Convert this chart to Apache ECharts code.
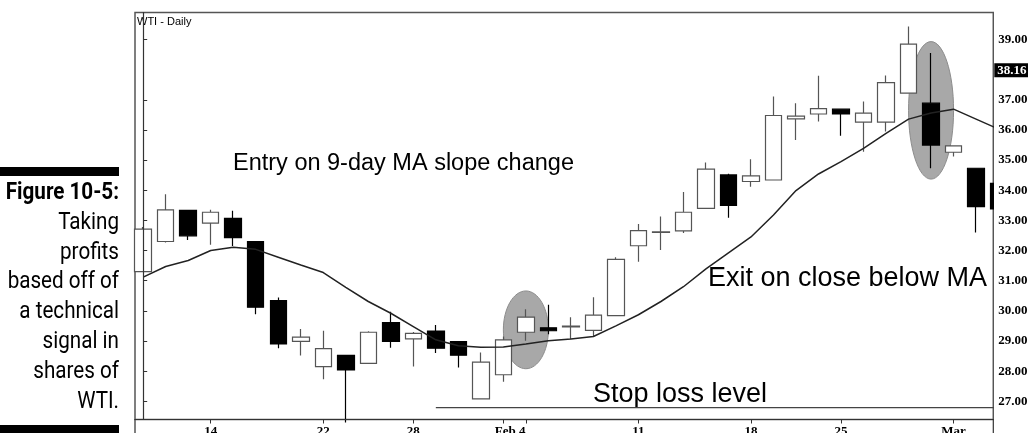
<!DOCTYPE html>
<html><head><meta charset="utf-8">
<script src="https://cdn.jsdelivr.net/npm/echarts@6/dist/echarts.min.js"></script>
<style>html,body{margin:0;padding:0;background:#fff;}#c{width:1028px;height:433px;}</style>
</head><body><div id="c"></div>
<script>
// Trading days (index = position on x axis)
const dates = ['Jan 9','Jan 10','Jan 11','Jan 14','Jan 15','Jan 16','Jan 17','Jan 18','Jan 22','Jan 23','Jan 24','Jan 25',
  'Jan 28','Jan 29','Jan 30','Jan 31','Feb 1','Feb 4','Feb 5','Feb 6','Feb 7','Feb 8','Feb 11','Feb 12','Feb 13','Feb 14','Feb 15',
  'Feb 19','Feb 20','Feb 21','Feb 22','Feb 25','Feb 26','Feb 27','Feb 28','Feb 29','Mar 3','Mar 4','Mar 5'];
const openV  = [31.30,32.30,33.33,32.91,33.07,32.30,30.34,28.99,28.15,28.52,28.26,29.61,29.07,29.33,28.98,27.08,27.88,29.29,29.44,29.47,
  29.35,29.84,32.16,32.60,32.65,33.40,34.51,34.29,34.34,36.37,36.53,36.69,36.26,36.26,37.22,36.89,35.26,34.73,34.23];
const closeV = [32.71,33.35,32.49,33.27,32.43,30.12,28.90,29.13,28.75,28.04,29.29,28.99,29.25,28.76,28.53,28.30,29.04,29.79,29.34,29.49,
  29.86,31.71,32.66,32.62,33.27,34.70,33.50,34.48,36.48,36.46,36.71,36.53,36.56,37.57,38.85,35.50,35.47,33.46,33.38];
const lowV   = [31.30,32.27,32.35,32.19,32.15,29.89,28.76,28.52,27.73,26.30,28.26,28.78,28.15,28.60,28.12,27.06,27.65,29.01,29.22,29.07,
  29.15,29.82,31.63,32.02,32.58,33.38,33.09,34.12,34.32,35.67,36.28,35.81,35.28,35.95,37.20,34.73,35.12,32.60,33.20];
const highV  = [32.78,33.87,33.35,33.35,33.32,32.32,30.44,29.40,29.34,28.52,29.32,29.97,29.30,29.53,28.98,28.62,29.15,30.05,30.20,29.79,
  30.45,31.78,32.88,33.13,33.94,34.92,34.55,35.03,37.11,36.89,37.80,36.69,36.94,37.81,39.43,38.55,35.48,34.75,34.30];
const ma9    = [31.12,31.47,31.67,32.00,32.11,32.04,31.78,31.52,31.27,30.78,30.31,29.92,29.48,29.04,28.84,28.79,28.80,28.90,29.01,29.07,
  29.15,29.50,29.87,30.31,30.80,31.39,31.92,32.45,33.18,33.99,34.54,34.95,35.39,35.89,36.36,36.56,36.69,36.36,36.03];
const stopLoss = 26.79;
const stopFrom = 13;
const lastPrice = 38.16;
// highlighted zones: [index, price, half-width (days), half-height (price)]
const zones = [[17, 29.37, 1.0, 1.29], [35, 36.65, 1.0, 2.28]];
// axis ticks and labels
const xTickIdx = [3, 8, 12, 16, 17, 22, 27, 31, 36];
const xLabelIdx = [3, 8, 12, 16.3, 22, 27, 31, 36];
const xLabelText = ['14', '22', '28', 'Feb 4', '11', '18', '25', 'Mar'];
const yTicks = [27, 28, 29, 30, 31, 32, 33, 34, 35, 36, 37, 39];

const serif = "'Liberation Serif','Times New Roman',serif";
const sans = "'Liberation Sans',Arial,sans-serif";
const candles = dates.map((d, i) => [i, openV[i], closeV[i], lowV[i], highV[i]]);
const maData = ma9.map((v, i) => [i, v]);

const captionLines = ['Taking', 'profits', 'based off of', 'a technical', 'signal in', 'shares of', 'WTI.'];
const graphic = [
  {type: 'rect', shape: {x: 0, y: 167, width: 119, height: 9}, style: {fill: '#000'}},
  {type: 'rect', shape: {x: 0, y: 425, width: 119, height: 8}, style: {fill: '#000'}},
  {type: 'text', x: 119, y: 193.2, scaleX: 0.86, style: {text: 'Figure 10-5:', font: "bold 24px Roboto", fill: '#000', align: 'right', verticalAlign: 'middle'}},
  {type: 'line', shape: {x1: 135, y1: 419, x2: 135, y2: 433}, style: {stroke: '#555', lineWidth: 1.5}},
  {type: 'line', z: 11, shape: {x1: 993.3, y1: 419, x2: 993.3, y2: 433}, style: {stroke: '#333', lineWidth: 1.2}},
  // white margin to the right of the plot (hides the part of the last candle past the axis)
  {type: 'rect', z: 5, shape: {x: 994, y: 0, width: 40, height: 433}, style: {fill: '#fff'}},
  {type: 'text', x: 137, y: 22.2, style: {text: 'WTI - Daily', font: "11px " + sans, fill: '#000', verticalAlign: 'middle'}},
  {type: 'text', x: 233, y: 163.8, style: {text: 'Entry on 9-day MA slope change', font: "23.5px " + sans, fill: '#000', verticalAlign: 'middle'}},
  {type: 'text', x: 708, y: 278.7, style: {text: 'Exit on close below MA', font: "27px " + sans, fill: '#000', verticalAlign: 'middle'}},
  {type: 'text', x: 593, y: 394.2, style: {text: 'Stop loss level', font: "27px " + sans, fill: '#000', verticalAlign: 'middle'}}
];
captionLines.forEach((t, k) => {
  graphic.push({type: 'text', x: 119, y: 231 + k * 29.8 - 8.2, scaleX: 0.86,
    style: {text: t, font: "24px Roboto", fill: '#000', align: 'right', verticalAlign: 'middle'}});
});

const chart = echarts.init(document.getElementById('c'), null, {renderer: 'canvas'});
chart.setOption({
  animation: false,
  backgroundColor: '#fff',
  grid: {left: 135, top: 12.5, width: 858.3, height: 407, show: true, borderColor: '#555', borderWidth: 1.5,
         containLabel: false, outerBoundsMode: 'none'},
  xAxis: {
    type: 'value', min: -0.364, max: 37.765, z: 10,
    axisLine: {show: true, lineStyle: {color: '#333', width: 1.2}},
    axisTick: {show: true, length: 4, customValues: xTickIdx, lineStyle: {color: '#333'}},
    axisLabel: {show: true, customValues: xLabelIdx, margin: 6, color: '#000', fontFamily: serif, fontWeight: 'bold', fontSize: 13,
      formatter: function (v) { for (let k = 0; k < xLabelIdx.length; k++) { if (Math.abs(xLabelIdx[k] - v) < 0.01) return xLabelText[k]; } return ''; }},
    splitLine: {show: false}
  },
  yAxis: {
    type: 'value', position: 'right', min: 26.396, max: 39.896, z: 10,
    axisLine: {show: true, lineStyle: {color: '#333', width: 1.2}},
    axisTick: {show: true, length: 4, inside: false, customValues: yTicks, lineStyle: {color: '#333'}},
    axisLabel: {show: true, customValues: yTicks, margin: 5, color: '#000', fontFamily: serif, fontWeight: 'bold', fontSize: 13,
      formatter: function (v) { return v.toFixed(2); }},
    splitLine: {show: false}
  },
  graphic: graphic,
  series: [
    {
      type: 'custom', name: 'zones', z: 1, silent: true,
      encode: {x: 0, y: 1},
      data: zones,
      renderItem: function (params, api) {
        const c = api.coord([api.value(0), api.value(1)]);
        const s = api.size([api.value(2), api.value(3)]);
        return {type: 'ellipse', shape: {cx: c[0], cy: c[1], rx: s[0], ry: s[1]},
          style: {fill: '#a8a8a8', stroke: '#8c8c8c', lineWidth: 1}};
      }
    },
    {
      type: 'candlestick', name: 'WTI', z: 3,
      data: candles, barWidth: 17,
      itemStyle: {color: '#ffffff', color0: '#000000', borderColor: '#555555', borderColor0: '#000000', borderWidth: 1.2}
    },
    {
      type: 'line', name: 'MA9', z: 4, data: maData, showSymbol: false, symbol: 'none', silent: true,
      lineStyle: {color: '#222', width: 1.5}
    },
    {
      type: 'line', name: 'stop', z: 4, data: [[stopFrom, stopLoss], [38.5, stopLoss]], showSymbol: false, symbol: 'none', silent: true,
      lineStyle: {color: '#444', width: 1.3}
    },
    {
      type: 'line', name: 'last', z: 12, data: [], silent: true,
      markLine: {
        symbol: 'none', silent: true, animation: false,
        lineStyle: {color: 'rgba(0,0,0,0)', width: 0, opacity: 1},
        label: {show: true, opacity: 1, position: 'end', formatter: lastPrice.toFixed(2), distance: 1, offset: [0, 5.5],
          backgroundColor: '#000', color: '#fff', fontFamily: serif, fontWeight: 'bold', fontSize: 13, padding: [1, 3, 0, 3]},
        data: [{yAxis: lastPrice}]
      }
    }
  ]
});
</script></body></html>
